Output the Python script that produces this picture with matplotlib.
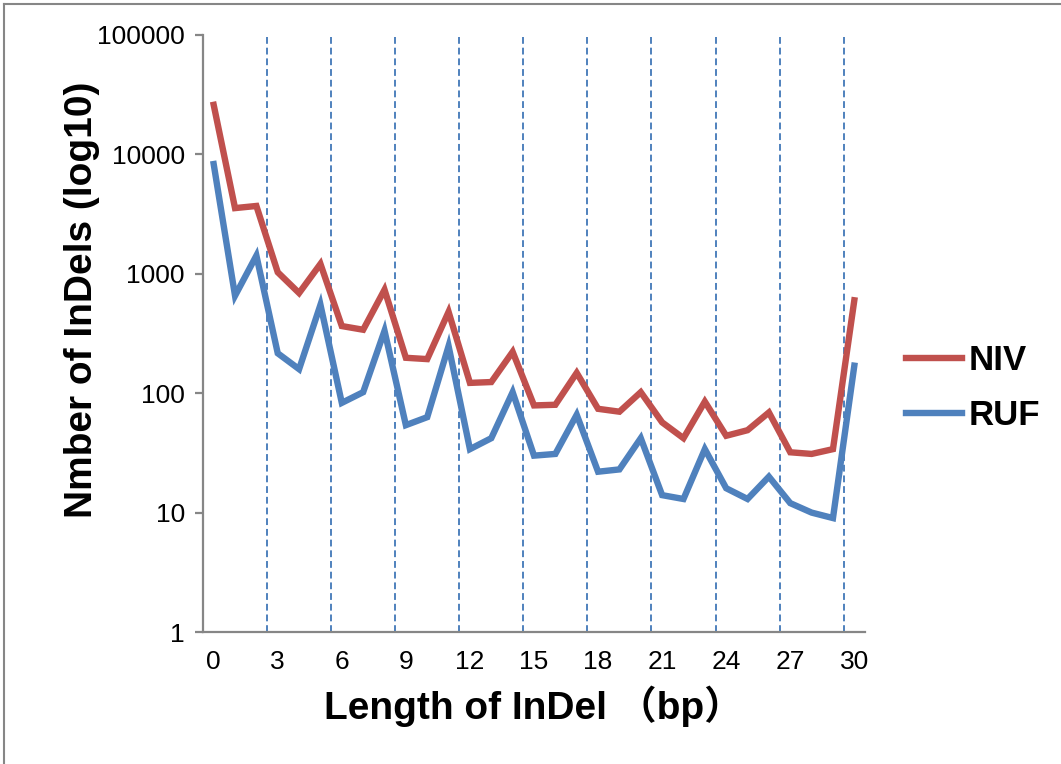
import matplotlib
matplotlib.use('Agg')
import matplotlib.pyplot as plt
from matplotlib.lines import Line2D
import numpy as np

# indel length (bp), category axis 0..30
lengths = list(range(0, 31))

niv = [26000, 3550, 3700, 1030, 690, 1210, 365, 340, 735, 198, 193, 480,
       122, 124, 222, 79, 80, 148, 74, 70, 102, 57, 42, 85, 44, 49, 69,
       32, 31, 34, 600]
ruf = [8300, 655, 1420, 216, 159, 550, 83, 102, 333, 54, 63, 248,
       34, 42, 102, 30, 31, 66, 22, 23, 42, 14, 13, 34, 16, 13, 20,
       12, 10, 9, 170]

xticks = list(range(0, 31, 3))
yticks = [1, 10, 100, 1000, 10000, 100000]

red = '#C0504D'
blue = '#4F81BD'
gray = '#868686'

plt.rcParams['font.family'] = ['Liberation Sans', 'DejaVu Sans']

fig = plt.figure(figsize=(10.61, 7.64), dpi=100)
ax = fig.add_axes([203/1061, 1-632/764, (865-203)/1061, (632-35)/764])

x = np.arange(len(lengths))
l1, = ax.plot(x, niv, color=red, lw=4.6, solid_joinstyle='miter', label='NIV')
l2, = ax.plot(x, ruf, color=blue, lw=4.6, solid_joinstyle='miter', label='RUF')

# dashed gridlines between categories every 3
for b in np.arange(2.5, 30.5, 3):
    ax.axvline(b, color=blue, lw=1.4, ls=(0, (3.5, 2)), zorder=0)

ax.set_yscale('log')
ax.set_ylim(1, 100000)
ax.set_yticks(yticks)
ax.set_yticklabels([str(v) for v in yticks])
ax.minorticks_off()
ax.set_xlim(-0.5, 30.5)
ax.set_xticks(xticks)
ax.set_xticklabels([str(lengths[i]) for i in xticks])

for s in ['top', 'right']:
    ax.spines[s].set_visible(False)
for s in ['left', 'bottom']:
    ax.spines[s].set_color(gray)
    ax.spines[s].set_linewidth(1.6)
ax.tick_params(axis='y', length=6, width=1.6, color=gray, labelsize=19, pad=7)
ax.tick_params(axis='x', length=0, labelsize=19, pad=13)

ax.set_xlabel('Length of InDel （bp）', fontsize=28, fontweight='bold',
              family=['Liberation Sans', 'Noto Sans CJK SC'], labelpad=8)
ax.set_ylabel('Nmber of InDels (log10)', fontsize=28, fontweight='bold')
ax.yaxis.set_label_coords(-0.155, 0.556)

leg = fig.legend(handles=[l1, l2], loc='center left', bbox_to_anchor=(875/1061, 1-388/764),
                 frameon=False, prop={'size': 25, 'weight': 'bold'},
                 handlelength=1.6, handletextpad=0.2, labelspacing=0.65)

# outer chart border (top and left visible)
fig.add_artist(Line2D([4/1061, 1], [1-4/764, 1-4/764], color=gray, lw=1.5))
fig.add_artist(Line2D([4/1061, 4/1061], [0, 1-4/764], color=gray, lw=1.5))

fig.savefig('out.png', dpi=100)
